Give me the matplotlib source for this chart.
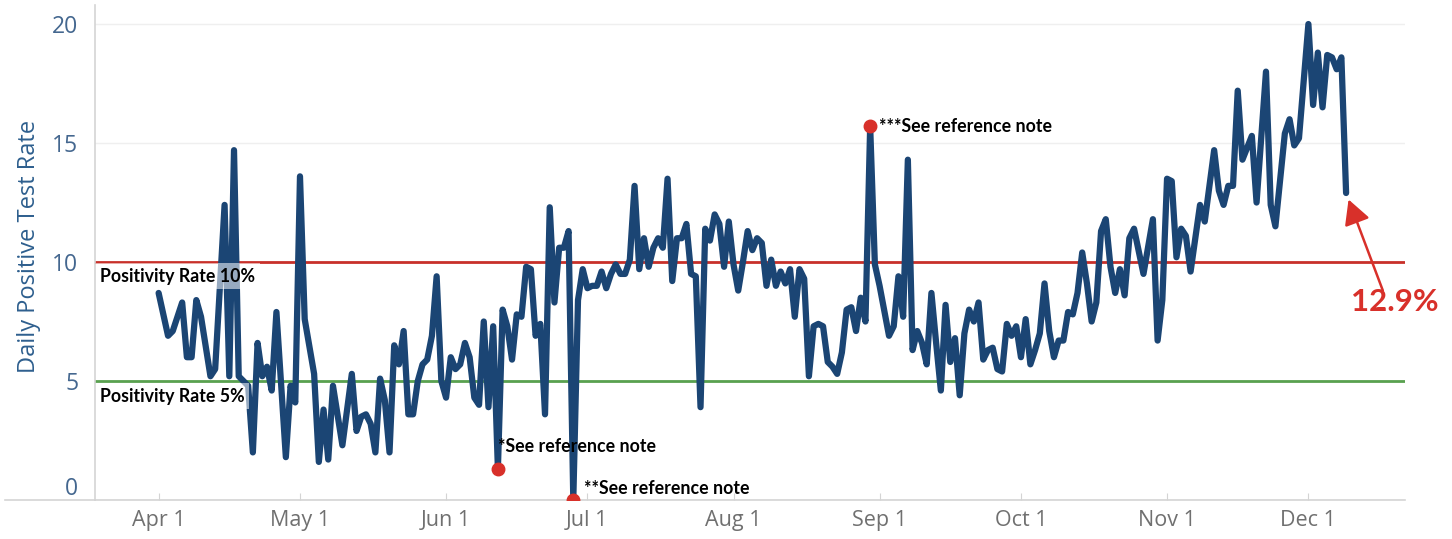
import numpy as np
import matplotlib.pyplot as plt
import matplotlib.dates as mdates
from matplotlib.lines import Line2D
from matplotlib.transforms import blended_transform_factory, offset_copy

plt.rcParams['font.family'] = ['Open Sans', 'DejaVu Sans']

start = np.datetime64('2020-04-01')

# days after Apr 1 and the daily positive test rate (%) read for that day
day_offsets = [0, 2, 3, 5, 6, 7, 8, 9, 11, 12, 14, 15, 16, 17, 19, 20, 21, 22, 23, 24, 25, 27, 28, 29, 30,
               31, 33, 34, 35, 36, 37, 39, 41, 42, 43, 44, 45, 46, 47, 48, 49, 50, 51, 52, 53, 54, 55, 56,
               57, 58, 59, 60, 61, 62, 63, 64, 65, 66, 67, 68, 69, 70, 71, 72, 73, 74, 75, 76, 77, 78, 79,
               80, 81, 82, 83, 84, 85, 86, 87, 88, 89, 90, 91, 92, 93, 94, 95, 96, 97, 98, 99, 100, 101,
               102, 103, 104, 105, 106, 107, 108, 109, 110, 111, 112, 113, 114, 115, 116, 117, 118, 119,
               120, 121, 122, 123, 124, 125, 126, 127, 128, 129, 130, 131, 132, 133, 134, 135, 136, 137,
               138, 139, 140, 141, 142, 143, 144, 145, 146, 147, 148, 149, 150, 151, 152, 153, 155, 156,
               157, 158, 159, 160, 161, 162, 163, 164, 165, 166, 167, 168, 169, 170, 171, 172, 173, 174,
               175, 176, 177, 178, 179, 180, 181, 182, 183, 184, 185, 186, 187, 188, 189, 190, 191, 192,
               193, 194, 195, 196, 197, 198, 199, 200, 201, 202, 203, 204, 205, 206, 207, 209, 211, 212,
               213, 214, 215, 216, 217, 218, 219, 221, 222, 224, 225, 226, 227, 228, 229, 230, 232, 233,
               235, 236, 237, 239, 240, 241, 242, 244, 245, 246, 247, 248, 249, 250, 251, 252]
rates = [8.7, 6.9, 7.1, 8.3, 6.0, 6.0, 8.4, 7.7, 5.2, 5.5, 12.4, 5.2, 14.7, 5.2, 4.8, 2.0, 6.6, 5.2, 5.6,
         4.6, 7.9, 1.8, 4.8, 4.1, 13.6,
         7.6, 5.3, 1.6, 3.8, 1.7, 4.8, 2.3, 5.3, 2.9, 3.5, 3.6, 3.2, 2.0, 5.1, 4.2, 2.0, 6.5, 5.7, 7.1,
         3.6, 3.6, 5.0, 5.7, 5.9, 6.9, 9.4, 5.0, 4.3, 6.0, 5.5, 5.7, 6.6, 6.0, 4.3, 4.0, 7.5, 3.9, 7.3,
         1.3, 8.0, 7.3, 5.9, 7.8, 7.7, 9.8, 9.7, 6.9, 7.4, 3.6, 12.3, 8.3, 10.6, 10.6, 11.3, 0.0, 8.4,
         9.7, 8.9, 9.0, 9.0, 9.6, 8.9, 9.5, 9.9, 9.5, 9.5, 10.1, 13.2, 9.7, 11.0, 9.8, 10.6, 11.0, 10.6,
         13.5, 9.2, 11.0, 11.0, 11.6, 9.5, 9.4, 3.9, 11.4, 10.9, 12.0, 11.6, 9.8, 11.7, 9.9, 8.8, 10.0,
         11.3, 10.5, 11.0, 10.8, 9.0, 10.1, 9.0, 9.6, 9.1, 9.7, 7.7, 9.7, 9.3, 5.2, 7.3, 7.4, 7.3, 5.8,
         5.6, 5.3, 6.2, 8.0, 8.1, 7.1, 8.5, 7.5, 15.7, 9.9, 9.0, 6.9, 7.3, 9.4, 7.7, 14.3, 6.3, 7.1, 6.6,
         5.7, 8.7, 6.6, 4.6, 8.2, 5.8, 6.8, 4.4, 7.0, 8.0, 7.5, 8.3, 5.9, 6.3, 6.4, 5.5, 5.4, 7.4, 6.9,
         7.3, 6.0, 7.6, 5.7, 6.3, 7.0, 9.1, 7.1, 6.0, 6.7, 6.7, 7.9, 7.8, 8.7, 10.4, 9.1, 7.5, 8.3, 11.3,
         11.8, 9.8, 8.7, 9.7, 8.6, 11.0, 11.4, 9.5, 11.8, 6.7, 8.4, 13.5, 13.4, 10.2, 11.4, 11.1, 9.6,
         12.4, 11.7, 14.7, 13.0, 12.4, 13.2, 13.2, 17.2, 14.3, 15.3, 12.5, 18.0, 12.4, 11.5, 15.4, 16.0,
         14.9, 15.2, 20.0, 16.6, 18.8, 16.5, 18.7, 18.6, 18.1, 18.6, 12.9]

note_days = [72, 88, 151]
note_labels = ['*See reference note', '**See reference note', '***See reference note']

tick_dates = ['2020-04-01', '2020-05-01', '2020-06-01', '2020-07-01', '2020-08-01',
              '2020-09-01', '2020-10-01', '2020-11-01', '2020-12-01']
tick_labels = ['Apr 1', 'May 1', 'Jun 1', 'Jul 1', 'Aug 1', 'Sep 1', 'Oct 1', 'Nov 1', 'Dec 1']

line_col = '#1b4574'
red = '#c8302a'
green = '#59a14f'
note_red = '#d8302a'
bold_font = ['Lato', 'DejaVu Sans']

x0 = mdates.date2num(start)
x = x0 + np.array(day_offsets)
y = np.array(rates)

fig = plt.figure(figsize=(14.52, 5.39), dpi=100)
ax = fig.add_axes([95 / 1452, 39 / 539, 1310 / 1452, 495 / 539])

ax.axhline(10, color=red, lw=2, zorder=2)
ax.axhline(5, color=green, lw=2, zorder=2)
ax.plot(x, y, color=line_col, lw=4.5, solid_joinstyle='round', solid_capstyle='round', zorder=3)

# reference-note markers
for d, lab, off in zip(note_days, note_labels, [(0, 16), (8, 8), (6.5, 0)]):
    v = rates[day_offsets.index(d)]
    ax.plot(x0 + d, v, 'o', color=note_red, ms=9, zorder=4)
    ax.annotate(lab, (x0 + d, v), xytext=off, textcoords='offset points',
                ha='left', va='center', fontsize=12.8, fontweight='bold',
                family=bold_font, color='black', zorder=6)

# threshold labels
tr = blended_transform_factory(ax.transAxes, ax.transData)
for val, lab in [(9.4, 'Positivity Rate 10%'), (4.37, 'Positivity Rate 5%')]:
    ax.text(0.004, val, lab, transform=tr, ha='left', va='center', fontsize=12.8,
            fontweight='bold', family=bold_font, zorder=6,
            bbox=dict(boxstyle='square,pad=0.25', fc='white', ec='none', alpha=0.55))

# latest value call-out
ax.annotate('', xy=(x[-1], y[-1]), xytext=(x0 + 259.8, 8.8),
            arrowprops=dict(arrowstyle='-|>,head_length=0.75,head_width=0.4', color=note_red,
                            lw=1.8, mutation_scale=20, shrinkA=0, shrinkB=5), zorder=6)
ax.text(x0 + 262.3, 8.3, '12.9%', ha='center', va='center', fontsize=22.5, fontweight='bold',
        family=bold_font, color=note_red)

ax.set_xlim(x0 - 13.5, x0 + 264.5)
ax.set_ylim(0, 20.8)
ax.set_xticks([mdates.date2num(np.datetime64(d)) for d in tick_dates])
ax.set_xticklabels(tick_labels)
ax.set_yticks([0, 5, 10, 15, 20])
ax.grid(axis='y', color='#efefef', lw=1, zorder=0)
ax.set_axisbelow(True)

ax.tick_params(axis='x', colors='#d4d4d4', labelcolor='#707070', labelsize=15.5, length=5,
               direction='in', pad=7)
ax.tick_params(axis='y', length=0, labelcolor='#44678f', labelsize=16.5, pad=12)
# the zero label sits just above the baseline, as in the source
zero_lab = ax.get_yticklabels()[0]
zero_lab.set_transform(offset_copy(zero_lab.get_transform(), fig=fig, y=14, units='dots'))
for s in ['top', 'right']:
    ax.spines[s].set_visible(False)
for s in ['left', 'bottom']:
    ax.spines[s].set_color('#d4d4d4')
    ax.spines[s].set_linewidth(1.2)

ax.set_ylabel('Daily Positive Test Rate', color='#2e5f8e', fontsize=17)
ax.yaxis.set_label_coords(-0.041, 0.513)

fig.add_artist(Line2D([5 / 1452, 95 / 1452], [39 / 539, 39 / 539], color='#d4d4d4', lw=1.2))

fig.savefig('out.png', dpi=100)
